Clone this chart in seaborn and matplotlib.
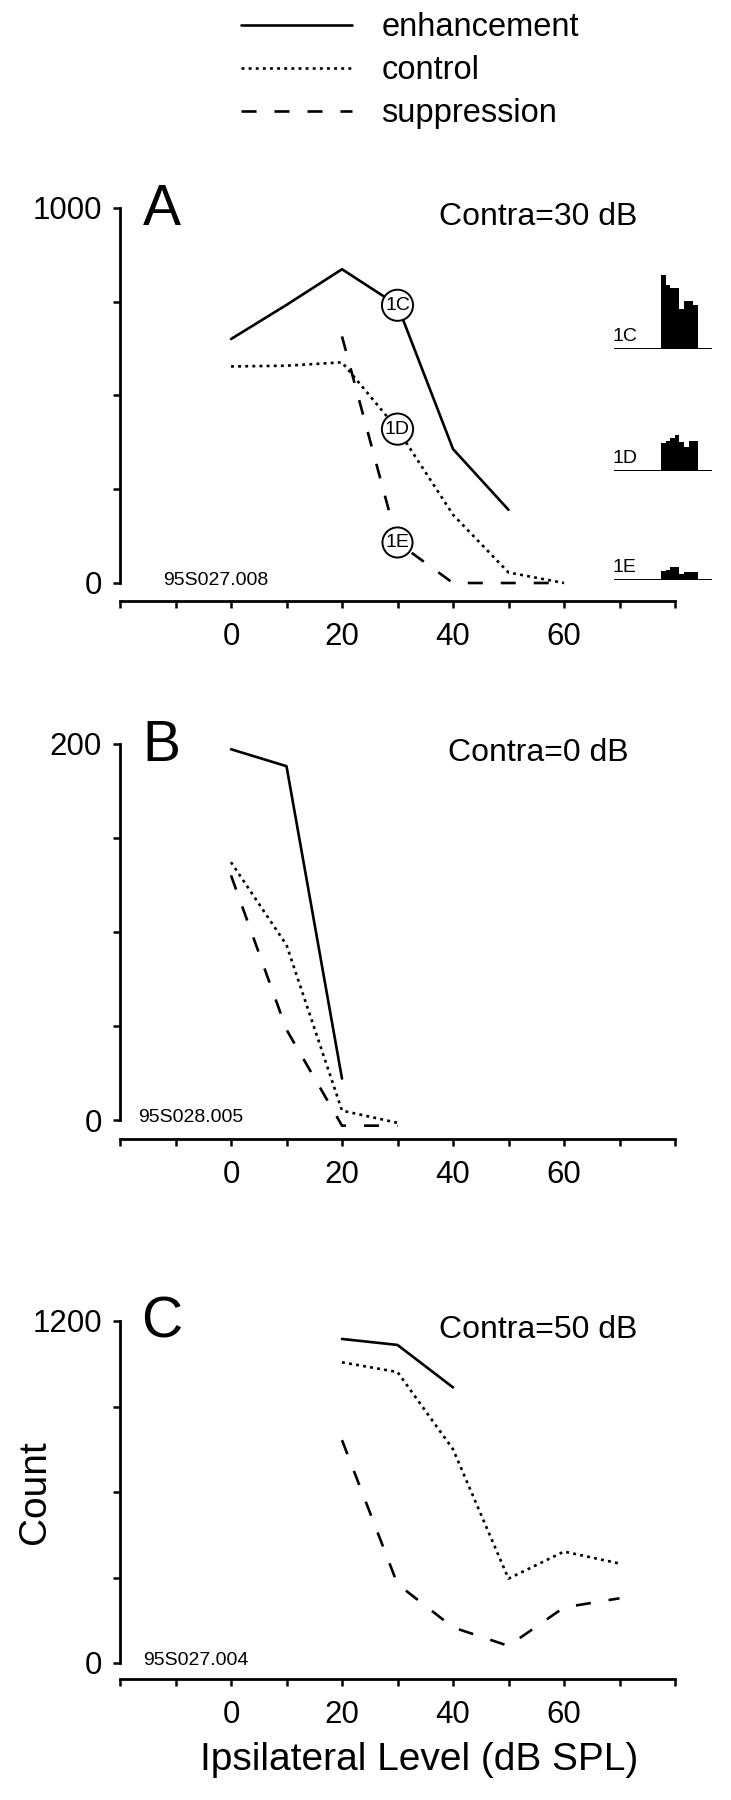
"""Binaural interaction: count vs ipsilateral level, three contra levels."""
import numpy as np
import pandas as pd
import seaborn as sns
import matplotlib.pyplot as plt
from matplotlib.lines import Line2D

# ---- data ----
conditions = ['enhancement', 'control', 'suppression']

# panel A, contra = 30 dB
a_enh_x = [0, 10, 20, 30, 40, 50]
a_enh_y = [650, 741, 836, 740, 357, 195]
a_ctl_x = [0, 10, 20, 30, 40, 50, 60]
a_ctl_y = [577, 579, 588, 410, 182, 28, 0]
a_sup_x = [20, 30, 40, 50, 60]
a_sup_y = [657, 108, 0, 0, 0]

# panel B, contra = 0 dB
b_enh_x = [0, 10, 20]
b_enh_y = [197, 188, 22]
b_ctl_x = [0, 10, 20, 30]
b_ctl_y = [137, 93, 5, -1.5]
b_sup_x = [0, 10, 20, 30]
b_sup_y = [130, 48, -3, -3]

# panel C, contra = 50 dB
c_enh_x = [20, 30, 40]
c_enh_y = [1137, 1116, 967]
c_ctl_x = [20, 30, 40, 50, 60, 70]
c_ctl_y = [1055, 1021, 750, 296, 391, 349]
c_sup_x = [20, 30, 40, 50, 60, 70]
c_sup_y = [782, 277, 125, 60, 195, 227]

x_ticks = [-20, -10, 0, 10, 20, 30, 40, 50, 60, 70, 80]
x_tick_labels = ['', '', '0', '', '20', '', '40', '', '60', '', '']

# example PSTHs (1C, 1D, 1E) shown at the right of panel A
psth_names = ['1C', '1D', '1E']
psth_1c = [74, 64, 61, 61, 40, 48, 48, 44]
psth_1d = [28, 30, 33, 36, 29, 24, 30, 30]
psth_1e = [9, 10, 13, 13, 6, 8, 8, 8]


def long_frame(series):
    """Stack (x, y) pairs into one long frame keyed by condition."""
    parts = []
    for cond, (xs, ys) in zip(conditions, series):
        parts.append(pd.DataFrame({'ipsi': xs, 'count': ys, 'condition': cond}))
    return pd.concat(parts, ignore_index=True)


sns.set_style('ticks')
plt.rcParams['font.family'] = ['Liberation Sans', 'DejaVu Sans']
for key in ('text.color', 'axes.labelcolor', 'xtick.color', 'ytick.color',
            'axes.edgecolor'):
    plt.rcParams[key] = 'black'

W, H = 731, 1800
fig = plt.figure(figsize=(W / 100, H / 100), dpi=100)
fig.patch.set_facecolor('white')

dash_map = {'enhancement': '', 'control': (1.1, 1.6), 'suppression': (5.7, 6.8)}
LW = 1.9

panels = [
    dict(df=long_frame([(a_enh_x, a_enh_y), (a_ctl_x, a_ctl_y), (a_sup_x, a_sup_y)]),
         yticks=[0, 250, 500, 750, 1000], ylabels=['0', '', '', '', '1000'],
         letter='A', contra='Contra=30 dB', unit='95S027.008',
         top=207.7, bottom=583, offset=13, letter_x=0.041, unit_x=0.077),
    dict(df=long_frame([(b_enh_x, b_enh_y), (b_ctl_x, b_ctl_y), (b_sup_x, b_sup_y)]),
         yticks=[0, 50, 100, 150, 200], ylabels=['0', '', '', '', '200'],
         letter='B', contra='Contra=0 dB', unit='95S028.005',
         top=743.6, bottom=1120, offset=13.5, letter_x=0.041, unit_x=0.032),
    dict(df=long_frame([(c_enh_x, c_enh_y), (c_ctl_x, c_ctl_y), (c_sup_x, c_sup_y)]),
         yticks=[0, 300, 600, 900, 1200], ylabels=['0', '', '', '', '1200'],
         letter='C', contra='Contra=50 dB', unit='95S027.004',
         top=1321, bottom=1663, offset=11.5, letter_x=0.038, unit_x=0.041),
]

left_px, right_px = 120, 675
axes = []
for p in panels:
    ax = fig.add_axes([left_px / W, 1 - p['bottom'] / H,
                       (right_px - left_px) / W, (p['bottom'] - p['top']) / H])
    ax.patch.set_alpha(0)
    sns.lineplot(data=p['df'], x='ipsi', y='count', style='condition',
                 style_order=conditions, dashes=dash_map, color='black',
                 lw=LW, estimator=None, sort=False, legend=False,
                 clip_on=False, ax=ax)
    ax.set_xlim(-20, 80)
    ax.set_ylim(p['yticks'][0], p['yticks'][-1])
    ax.set_xticks(x_ticks)
    ax.set_xticklabels(x_tick_labels)
    ax.set_yticks(p['yticks'])
    ax.set_yticklabels(p['ylabels'])
    ax.set_xlabel('')
    ax.set_ylabel('')
    sns.despine(ax=ax)
    ax.spines['bottom'].set_position(('outward', p['offset']))
    for s in ('left', 'bottom'):
        ax.spines[s].set_linewidth(2.0)
    ax.tick_params(axis='both', direction='out', length=5, width=1.8,
                   labelsize=22.5)
    ax.tick_params(axis='y', pad=8)
    ax.tick_params(axis='x', pad=10)

    hpx = p['bottom'] - p['top']
    base = 1 - 17 / hpx
    ax.text(p['letter_x'], base, p['letter'], transform=ax.transAxes,
            fontsize=41, ha='left', va='baseline')
    ax.text(0.753, base, p['contra'], transform=ax.transAxes,
            fontsize=23, ha='center', va='baseline')
    ax.text(p['unit_x'], -2 / hpx, p['unit'], transform=ax.transAxes,
            fontsize=14, ha='left', va='baseline')
    axes.append(ax)

# circled labels on panel A at 30 dB
ax_a = axes[0]
for name, xs, ys in zip(psth_names, [a_enh_x, a_ctl_x, a_sup_x],
                        [a_enh_y, a_ctl_y, a_sup_y]):
    yv = ys[xs.index(30)]
    ax_a.text(30, yv, name, ha='center', va='center', fontsize=14, zorder=5,
              bbox=dict(boxstyle='circle,pad=0.16', fc='white', ec='black',
                        lw=1.4))

# PSTH insets to the right of panel A
baselines = [349.3, 470.7, 580]
bin_px = 4.6
inset_left, inset_right = 614, 712
for name, hist, yb in zip(psth_names, [psth_1c, psth_1d, psth_1e], baselines):
    iax = fig.add_axes([inset_left / W, 1 - yb / H,
                        (inset_right - inset_left) / W, 80 / H])
    iax.patch.set_alpha(0)
    start = (661 - inset_left) / bin_px
    iax.bar(start + np.arange(len(hist)), hist, width=1.0, align='edge',
            color='black', linewidth=0)
    iax.axhline(0, color='black', lw=1.4)
    iax.set_xlim(0, (inset_right - inset_left) / bin_px)
    iax.set_ylim(0, 80)
    iax.axis('off')
    iax.text(-0.02, 0.1, name, transform=iax.transAxes, fontsize=14,
             ha='left', va='baseline')

# axis labels on the bottom panel
ax_c = axes[2]
ax_c.set_xlabel('Ipsilateral Level (dB SPL)', fontsize=28)
ax_c.xaxis.set_label_coords(0.539, -0.23)
ax_c.set_ylabel('Count', fontsize=28)
ax_c.yaxis.set_label_coords(-0.12, 0.5)

# legend above panel A
handles = [Line2D([], [], color='black', lw=LW, linestyle='-'),
           Line2D([], [], color='black', lw=LW, dashes=dash_map['control']),
           Line2D([], [], color='black', lw=LW, dashes=dash_map['suppression'])]
fig.legend(handles, conditions, loc='upper left',
           bbox_to_anchor=(241 / W, 1 - 12 / H), frameon=False, fontsize=23.5,
           handlelength=3.4, handletextpad=0.9, labelspacing=0.37,
           borderpad=0, borderaxespad=0)

fig.savefig('out.png', dpi=100, facecolor='white')
